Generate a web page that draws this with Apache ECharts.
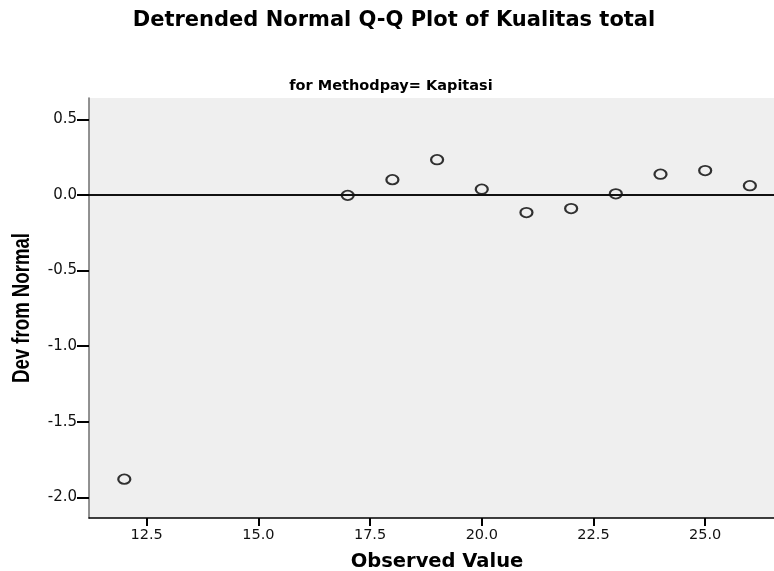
<!DOCTYPE html>
<html><head><meta charset="utf-8">
<script src="https://cdn.jsdelivr.net/npm/echarts@6/dist/echarts.min.js"></script>
<style>html,body{margin:0;padding:0;background:#fff;overflow:hidden}#c{width:774px;height:571px}</style>
</head><body><div id="c"></div>
<script>
const observed = [12, 17, 18, 19, 20, 21, 22, 23, 24, 25, 26];
const devFromNormal = [-1.88, -0.003, 0.101, 0.233, 0.038, -0.117, -0.090, 0.007, 0.137, 0.161, 0.061];
const xTicks = [12.5, 15.0, 17.5, 20.0, 22.5, 25.0];
const yTicks = [-2.0, -1.5, -1.0, -0.5, 0.0, 0.5];
const titleText = 'Detrended Normal Q-Q Plot of Kualitas total';
const subtitleText = 'for Methodpay= Kapitasi';
const xName = 'Observed Value';
const yName = 'Dev from Normal';

const chart = echarts.init(document.getElementById('c'), null, {width: 774, height: 571, renderer: 'canvas'});
const wide = '"DejaVu Sans", sans-serif';
const plain = '"Liberation Sans", Arial, sans-serif';
function label(text, x, y, font, extra) {
  return Object.assign({
    type: 'text', x: x, y: y, silent: true,
    style: {text: text, font: font, fill: '#000', textAlign: 'center', textVerticalAlign: 'middle',
            align: 'center', verticalAlign: 'middle'}
  }, extra || {});
}
chart.setOption({
  animation: false,
  graphic: [
    label(titleText, 394, 21, 'bold 21px ' + wide),
    label(subtitleText, 391, 86, 'bold 14.5px ' + wide),
    label(xName, 437, 562, 'bold 19.5px ' + wide),
    label(yName, 22.5, 308, 'bold 24px ' + plain, {rotation: Math.PI / 2, scaleX: 0.776})
  ],
  grid: {left: 89, top: 98, right: 0, bottom: 53, show: true, backgroundColor: '#efefef', borderWidth: 0},
  xAxis: {
    type: 'value', min: 11.21, max: 26.54,
    axisLine: {show: true, onZero: false, lineStyle: {color: '#000', width: 1.5}},
    axisTick: {show: true, length: 8, lineStyle: {color: '#000', width: 2}, customValues: xTicks},
    axisLabel: {fontFamily: wide, fontSize: 14.5, color: '#111', margin: 10, customValues: xTicks,
      formatter: v => v.toFixed(1)},
    splitLine: {show: false}
  },
  yAxis: {
    type: 'value', min: -2.137, max: 0.641,
    axisLine: {show: true, onZero: false, lineStyle: {color: '#777', width: 1.6}},
    axisTick: {show: true, length: 12, lineStyle: {color: '#000', width: 2}, customValues: yTicks},
    axisLabel: {fontFamily: wide, fontSize: 15, color: '#111', margin: 12, customValues: yTicks,
      formatter: v => v.toFixed(1)},
    splitLine: {show: false}
  },
  series: [{
    type: 'scatter',
    data: observed.map((x, i) => [x, devFromNormal[i]]),
    symbol: 'circle', symbolSize: [12, 9.5],
    itemStyle: {color: 'rgba(0,0,0,0)', borderColor: '#000', borderWidth: 2},
    markLine: {
      silent: true, symbol: 'none', label: {show: false},
      lineStyle: {color: '#111', width: 2, type: 'solid'},
      data: [{yAxis: 0}]
    },
    z: 3
  }]
});
</script></body></html>
